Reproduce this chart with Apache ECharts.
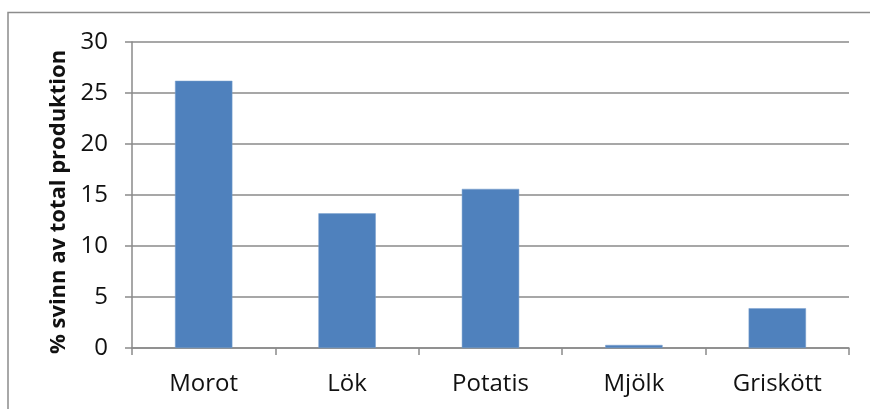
<!DOCTYPE html>
<html>
<head>
<meta charset="utf-8">
<script src="https://cdn.jsdelivr.net/npm/echarts@6/dist/echarts.min.js"></script>
<style>
  html, body { margin: 0; padding: 0; background: #ffffff; }
  #chart { width: 870px; height: 409px; }
</style>
</head>
<body>
<div id="chart"></div>
<script>
// Food waste as share of total production, by product
const categories = ['Morot', 'Lök', 'Potatis', 'Mjölk', 'Griskött'];
const wasteShare = [26.2, 13.2, 15.6, 0.3, 3.9];
const yTicks = [0, 5, 10, 15, 20, 25, 30];
const yAxisTitle = '% svinn av total produktion';

const axisGrey = '#8a8a8a';
const fontFamily = '"Open Sans", "Noto Sans", sans-serif';

const chart = echarts.init(document.getElementById('chart'), null, { renderer: 'canvas' });

chart.setOption({
  animation: false,
  backgroundColor: '#ffffff',
  graphic: [{
    type: 'rect',
    shape: { x: 8, y: 12.5, width: 900, height: 500 },
    style: { fill: 'none', stroke: '#8c8c8c', lineWidth: 1.5 },
    silent: true
  }],
  grid: { left: 132, right: 21, top: 42, bottom: 61 },
  xAxis: {
    type: 'category',
    data: categories,
    boundaryGap: true,
    axisLine: { show: true, lineStyle: { color: axisGrey, width: 1.5 } },
    axisTick: { show: true, length: 7, alignWithLabel: false, lineStyle: { color: axisGrey, width: 1.5 } },
    axisLabel: { color: '#111', fontSize: 24, fontFamily: fontFamily, margin: 24 }
  },
  yAxis: {
    type: 'value',
    min: yTicks[0],
    max: yTicks[yTicks.length - 1],
    interval: yTicks[1] - yTicks[0],
    name: yAxisTitle,
    nameLocation: 'middle',
    nameGap: 61,
    nameTextStyle: {
      color: '#111', fontSize: 22, fontWeight: 'bold', fontFamily: fontFamily,
      padding: [0, 14, 0, 0]
    },
    axisLine: { show: true, lineStyle: { color: axisGrey, width: 1.5 } },
    axisTick: { show: true, length: 7, lineStyle: { color: axisGrey, width: 1.5 } },
    axisLabel: { color: '#111', fontSize: 24, fontFamily: fontFamily, margin: 24 },
    splitLine: { show: true, lineStyle: { color: axisGrey, width: 1.5 } }
  },
  series: [{
    type: 'bar',
    data: wasteShare,
    barWidth: '40%',
    itemStyle: { color: '#4f81bd', borderColor: '#7aa0cf', borderWidth: 0.5 }
  }]
});
</script>
</body>
</html>
